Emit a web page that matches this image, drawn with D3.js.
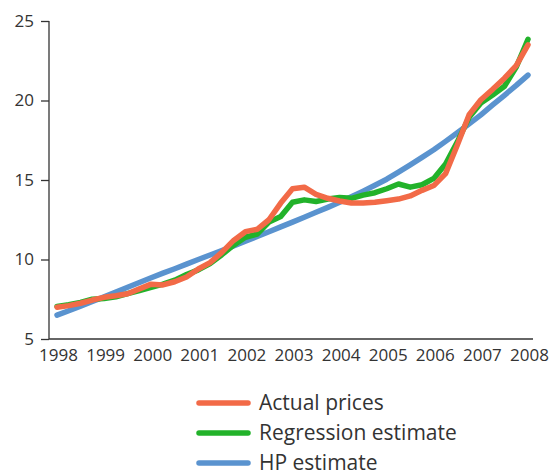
<!DOCTYPE html>
<html>
<head>
<meta charset="utf-8">
<script src="https://cdn.jsdelivr.net/npm/d3@7"></script>
<style>
  html, body { margin: 0; padding: 0; background: #fff; }
  text { font-family: "Open Sans", sans-serif; fill: #333; }
</style>
</head>
<body>
<svg id="chart" width="554" height="473"></svg>
<script>
// Quarterly observations, 1998Q1 .. 2008Q1
const startYear = 1998;
const yearTicks = [1998, 1999, 2000, 2001, 2002, 2003, 2004, 2005, 2006, 2007, 2008];
const yTicks = [5, 10, 15, 20, 25];

const actualPrices = [
  7.0, 7.1, 7.25, 7.45,
  7.62, 7.72, 7.85, 8.15,
  8.45, 8.4, 8.6, 8.9,
  9.4, 9.8, 10.45, 11.2,
  11.75, 11.9, 12.5, 13.55,
  14.45, 14.55, 14.1, 13.85,
  13.68, 13.55, 13.55, 13.6,
  13.7, 13.8, 14.0, 14.35,
  14.65, 15.4, 17.2, 19.1,
  20.05, 20.7, 21.4, 22.2,
  23.5
];
const regressionEstimate = [
  7.05, 7.15, 7.3, 7.5,
  7.55, 7.65, 7.85, 8.05,
  8.25, 8.45, 8.7, 9.05,
  9.35, 9.75, 10.3, 10.9,
  11.4, 11.6, 12.35, 12.7,
  13.6, 13.75, 13.65, 13.8,
  13.9, 13.85, 14.05, 14.2,
  14.45, 14.75, 14.55, 14.7,
  15.1, 16.0, 17.4, 18.95,
  19.85, 20.35, 20.9, 22.1,
  23.85
];
const hpEstimate = [
  6.5, 6.78, 7.07, 7.36,
  7.65, 7.95, 8.25, 8.55,
  8.85, 9.14, 9.42, 9.71,
  10.0, 10.28, 10.57, 10.86,
  11.15, 11.45, 11.75, 12.05,
  12.35, 12.66, 12.97, 13.28,
  13.6, 13.95, 14.3, 14.67,
  15.05, 15.5, 15.95, 16.42,
  16.9, 17.43, 17.97, 18.53,
  19.1, 19.72, 20.33, 20.95,
  21.6
];

const seriesNames = ["Actual prices", "Regression estimate", "HP estimate"];
const seriesColors = ["#F26A47", "#22B22A", "#5A93CF"];

const svg = d3.select("#chart");
const x = d3.scaleLinear().domain([1998, 2008]).range([57, 528]);
const y = d3.scaleLinear().domain([5, 25]).range([339, 21]);
const axisColor = "#333";

// Y axis
const yAxis = svg.append("g").attr("transform", "translate(49,0)")
  .call(d3.axisLeft(y).tickValues(yTicks).tickSize(8).tickPadding(7));
yAxis.select(".domain").attr("stroke", axisColor).attr("stroke-width", 1.3)
  .attr("d", "M0," + y(25) + "V" + y(5));
yAxis.selectAll(".tick line").attr("stroke", axisColor).attr("stroke-width", 1.3);
yAxis.selectAll(".tick text").style("font-size", "17px").attr("fill", "#333");

// X axis
const xAxis = svg.append("g").attr("transform", "translate(0," + y(5) + ")")
  .call(d3.axisBottom(x).tickValues(yearTicks).tickFormat(d3.format("d")).tickSize(0).tickPadding(10));
xAxis.select(".domain").attr("stroke", axisColor).attr("stroke-width", 1.3)
  .attr("d", "M49,0H533");
xAxis.selectAll(".tick text").style("font-size", "17px").attr("fill", "#333").attr("dx", 1);

// Lines
const toPoints = arr => arr.map((v, i) => ({ t: startYear + i / 4, v }));
const line = d3.line().x(d => x(d.t)).y(d => y(d.v));
const drawOrder = [
  { data: hpEstimate, color: seriesColors[2] },
  { data: regressionEstimate, color: seriesColors[1] },
  { data: actualPrices, color: seriesColors[0] }
];
drawOrder.forEach(s => {
  svg.append("path")
    .datum(toPoints(s.data))
    .attr("d", line)
    .attr("fill", "none")
    .attr("stroke", s.color)
    .attr("stroke-width", 5.5)
    .attr("stroke-linejoin", "round")
    .attr("stroke-linecap", "round");
});

// Legend
const legend = svg.append("g");
seriesNames.forEach((name, i) => {
  const yy = 403 + i * 30;
  legend.append("line")
    .attr("x1", 199).attr("x2", 248).attr("y1", yy).attr("y2", yy)
    .attr("stroke", seriesColors[i]).attr("stroke-width", 5.5)
    .attr("stroke-linecap", "round");
  legend.append("text")
    .attr("x", 259).attr("y", yy).attr("dy", "0.35em")
    .style("font-size", "21px")
    .text(name);
});
</script>
</body>
</html>
